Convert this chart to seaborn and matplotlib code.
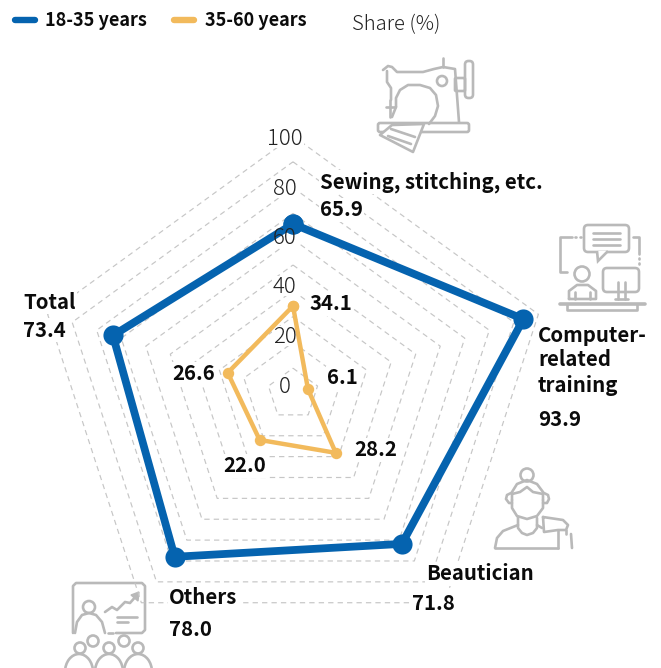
import numpy as np
import pandas as pd
import matplotlib
matplotlib.use("Agg")
import matplotlib.pyplot as plt
from matplotlib.lines import Line2D
from matplotlib.patches import Arc, Circle, FancyBboxPatch, Polygon, Rectangle
import seaborn as sns

courses = ["Sewing, stitching, etc.", "Computer-related training", "Beautician", "Others", "Total"]
young = [65.9, 93.9, 71.8, 78.0, 73.4]
older = [34.1, 6.1, 28.2, 22.0, 26.6]
ring_levels = list(range(10, 101, 10))
tick_levels = [100, 80, 60, 40, 20, 0]

BLUE = "#0563AF"
ORANGE = "#F2BA5C"
RING = "#c6c6c6"
ICON = "#b9b9b9"
INK = "#0b0b0b"
W, H = 661, 668
CX, CY, R = 293, 394, 258

sns.set_theme(style="white")
plt.rcParams["font.family"] = ["Noto Sans CJK JP", "DejaVu Sans"]

fig = plt.figure(figsize=(W / 100, H / 100), dpi=100, facecolor="white")

# Pixel-addressed layer that carries the pictograms and the legend keys
canvas = fig.add_axes([0, 0, 1, 1], zorder=0)
canvas.set_xlim(0, W)
canvas.set_ylim(H, 0)
canvas.axis("off")

# Radar panel
ax = fig.add_axes([(CX - R) / W, 1 - (CY + R) / H, 2 * R / W, 2 * R / H],
                  projection="polar", zorder=1)
ax.set_theta_zero_location("N")
ax.set_theta_direction(-1)
ax.axis("off")

angles = np.linspace(0, 2 * np.pi, len(courses), endpoint=False)
closed_angles = np.append(angles, angles[0])

for level in ring_levels:
    ax.plot(closed_angles, np.full(closed_angles.shape, level), color=RING, lw=0.85,
            dashes=(4.5, 3.5), clip_on=False, zorder=1)


def radar_line(values, color, width, marker_size):
    frame = pd.DataFrame({"angle": closed_angles, "share": values + values[:1]})
    sns.lineplot(data=frame, x="angle", y="share", sort=False, estimator=None, ax=ax,
                 color=color, linewidth=width, marker="o", markersize=marker_size,
                 markeredgewidth=0, solid_joinstyle="round", clip_on=False,
                 legend=False, zorder=3)


radar_line(young, BLUE, 5.6, 14.5)
radar_line(older, ORANGE, 3.2, 8.2)
ax.set_ylim(0, 100)


def label(x, y, text, weight="bold", size=14.7, color=INK, ha="left", white=True):
    box = dict(facecolor="white", edgecolor="none", pad=1.0) if white else None
    fig.text(x / W, 1 - y / H, text, fontsize=size, fontweight=weight, color=color,
             ha=ha, va="center", bbox=box, zorder=5)


# Radial scale: white plates sit over the rings but under the data lines
for level, y in zip(tick_levels, [139, 189, 238, 287, 337, 387]):
    half_width = 19 if level == 100 else (8 if level == 0 else 13)
    ax.add_patch(Rectangle(((284.5 - half_width) / W, 1 - (y + 9) / H), 2 * half_width / W, 20 / H,
                           transform=fig.transFigure, facecolor="white", edgecolor="none",
                           clip_on=False, zorder=2))
    label(284.5, y, str(level), weight="light", size=16, color="#222222", ha="center", white=False)

# Category names and values
label(320, 182, courses[0])
label(320, 210, f"{young[0]:.1f}")
label(538, 335, "Computer-")
label(538, 360, "related")
label(538, 386, "training")
label(538, 420, f"{young[1]:.1f}")
label(426, 574, courses[2])
label(412, 603, f"{young[2]:.1f}")
label(169, 598, courses[3])
label(169, 629, f"{young[3]:.1f}")
label(23, 302, courses[4])
label(23, 330, f"{young[4]:.1f}")
label(309, 304, f"{older[0]:.1f}")
label(327, 378, f"{older[1]:.1f}")
label(354, 450, f"{older[2]:.1f}")
label(223, 466, f"{older[3]:.1f}")
label(172, 374, f"{older[4]:.1f}")

# Legend row
for x0, color in [(15, BLUE), (174, ORANGE)]:
    canvas.add_line(Line2D([x0, x0 + 20], [20, 20], color=color, lw=4.6, solid_capstyle="round"))
label(45, 20, "18-35 years", size=13, white=False)
label(205, 20, "35-60 years", size=13, white=False)
label(352, 25, "Share (%)", weight="light", size=14.6, color="#222222", white=False)


def stroke(points, lw=1.9):
    xs, ys = zip(*points)
    canvas.add_line(Line2D(xs, ys, color=ICON, lw=lw, solid_capstyle="round", solid_joinstyle="round"))


def ring(x, y, r, lw=1.9):
    canvas.add_patch(Circle((x, y), r, fill=False, edgecolor=ICON, lw=lw))


def rounded(x0, y0, x1, y1, rad=3, lw=1.9):
    canvas.add_patch(FancyBboxPatch((x0 + rad, y0 + rad), x1 - x0 - 2 * rad, y1 - y0 - 2 * rad,
                                    boxstyle=f"round,pad={rad},rounding_size={rad}",
                                    fill=False, edgecolor=ICON, lw=lw))


def arc(x, y, w, h, start, end, lw=1.9):
    # The canvas y axis points down, so angles run clockwise on screen
    canvas.add_patch(Arc((x, y), w, h, theta1=start, theta2=end, edgecolor=ICON, lw=lw))


# Sewing machine
stroke([(383, 70), (388, 66), (392, 67), (397, 72), (423, 72), (434, 69), (443, 67), (455, 69), (459, 122)])
stroke([(387, 71), (387, 82), (391, 88), (391, 100)])
stroke([(396, 107), (396, 98), (400, 90), (408, 85), (420, 85), (430, 88), (436, 95), (438, 106), (435, 116), (429, 124)])
stroke([(396, 107), (392, 117)])
stroke([(390, 100), (390, 117)])
stroke([(386, 107), (395, 107)])
ring(442, 81, 5)
stroke([(443, 58), (443, 67)])
rounded(465, 61, 473, 98, rad=3.5)
rounded(455, 78, 465, 91, rad=1)
rounded(378, 123, 469, 132, rad=2)
canvas.add_patch(Polygon([(392, 125), (380, 135), (413, 152), (424, 124)], closed=True,
                         facecolor="white", edgecolor=ICON, lw=1.9, joinstyle="round", zorder=3))
canvas.add_line(Line2D([391, 415], [129, 137], color=ICON, lw=1.9, zorder=4))
canvas.add_line(Line2D([388, 411], [136, 144], color=ICON, lw=1.9, zorder=4))

# Computer training
rounded(584, 225, 629, 252, rad=4)
canvas.add_patch(Polygon([(597, 251), (598, 261), (608, 251)], closed=False,
                         facecolor="white", edgecolor=ICON, lw=1.9, zorder=3))
for y in (233, 239, 245):
    stroke([(593, y), (620, y)])
stroke([(572, 237), (560, 237), (560, 272), (567, 272)])
stroke([(575, 237), (576, 237)])
stroke([(580, 237), (581, 237)])
stroke([(633, 237), (639, 237), (639, 254)])
stroke([(639, 258), (639, 259)])
stroke([(639, 263), (639, 264)])
ring(582, 274, 7.5)
stroke([(569, 299), (569, 291), (577, 285), (588, 285), (596, 291), (596, 299), (569, 299)])
stroke([(575, 292), (575, 299)])
stroke([(590, 292), (590, 299)])
rounded(603, 268, 639, 292, rad=4)
stroke([(618, 282), (618, 299)])
stroke([(625, 282), (625, 299)])
stroke([(615, 299), (628, 299)])
stroke([(560, 304), (645, 304)], lw=2.6)
stroke([(567, 304), (567, 310), (637, 310), (637, 304)])

# Beautician
ring(527, 475, 6.5)
stroke([(512, 500), (512, 508), (517, 516), (527, 519), (537, 516), (543, 508), (543, 500)])
stroke([(512, 500), (512, 492), (517, 484), (527, 480), (537, 484), (543, 492), (543, 500)])
stroke([(512, 494), (520, 492), (527, 487), (533, 492), (543, 494)])
stroke([(511, 493), (507, 495), (506, 499), (509, 503), (512, 503)])
stroke([(544, 493), (548, 495), (549, 499), (547, 503), (543, 503)])
stroke([(518, 517), (518, 528), (522, 533), (527, 535), (533, 533), (537, 528), (537, 518)])
stroke([(495, 548), (497, 538), (503, 531), (518, 525)])
stroke([(537, 525), (542, 528)])
stroke([(495, 548), (558, 548)])
stroke([(543, 517), (563, 520), (568, 525), (566, 530), (558, 530), (544, 532), (543, 517)])
stroke([(558, 530), (558, 548)])
stroke([(566, 530), (566, 534)])
stroke([(571, 534), (572, 548)])

# Classroom
stroke([(108, 633), (113, 633)])
stroke([(116, 633), (142, 633), (145, 630), (145, 586), (142, 583), (76, 583), (73, 586), (73, 633)])
ring(89, 607, 6)
stroke([(75, 633), (77, 622), (82, 615), (89, 613), (96, 615), (102, 622), (105, 633)])
stroke([(105, 612), (112, 607), (117, 610), (125, 602), (130, 603), (137, 595)])
canvas.add_patch(Polygon([(139, 592), (131, 595), (138, 601)], closed=True, facecolor=ICON, edgecolor=ICON))
stroke([(117, 617), (137, 617)])
stroke([(117, 622), (128, 622)])
for x, y in [(80, 648), (93, 641), (109, 648), (124, 641), (138, 648)]:
    ring(x, y, 5.5)
for x in (79, 109, 138):
    arc(x, 672, 28, 36, 180, 360)

fig.savefig("out.png", dpi=100, facecolor="white")
